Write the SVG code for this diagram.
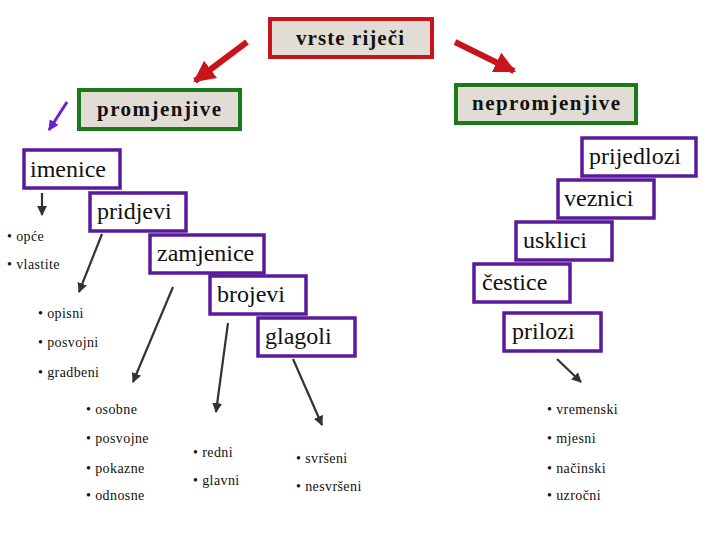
<svg xmlns="http://www.w3.org/2000/svg" width="720" height="540" viewBox="0 0 720 540">
<style>
text{font-family:'Liberation Serif','Times New Roman','DejaVu Serif',serif;fill:#111}
.hb{font-size:21px;font-weight:bold}
.bx{font-size:24px}
.li{font-size:14px;letter-spacing:0.4px}
.top{fill:#e2ddd4;stroke-width:4}
.pb{fill:#fff;stroke:#5a1a9c;stroke-width:3.5}
.dk{stroke:#333;stroke-width:2.2;fill:none;marker-end:url(#ad)}
.rd{stroke:#c8141a;stroke-width:6;fill:none;marker-end:url(#ar)}
</style>
<defs>
<marker id="ad" viewBox="0 0 10 10" refX="9" refY="5" markerWidth="4.5" markerHeight="4.5" orient="auto"><path d="M0,0 L10,5 L0,10 z" fill="#333"/></marker>
<marker id="ar" viewBox="0 0 10 10" refX="9" refY="5" markerWidth="3.6" markerHeight="3.6" orient="auto"><path d="M0,0 L10,5 L0,10 z" fill="#c8141a"/></marker>
<marker id="ap" viewBox="0 0 10 10" refX="9" refY="5" markerWidth="3.5" markerHeight="3.5" orient="auto"><path d="M0,0 L10,5 L0,10 z" fill="#6a1fd0"/></marker>
</defs>
<rect width="720" height="540" fill="#fff"/>
<g id="connectors">
<line class="rd" x1="247" y1="42" x2="195" y2="81"/>
<line class="rd" x1="455" y1="42" x2="514" y2="71"/>
<line x1="67" y1="102" x2="49" y2="130" stroke="#6a1fd0" stroke-width="3" marker-end="url(#ap)"/>
<line class="dk" x1="42" y1="193" x2="42" y2="215"/>
<line class="dk" x1="102" y1="234" x2="79" y2="292"/>
<line class="dk" x1="173" y1="287" x2="133" y2="382"/>
<line class="dk" x1="228" y1="323" x2="216" y2="412"/>
<line class="dk" x1="293" y1="359" x2="322" y2="425"/>
<line class="dk" x1="557" y1="359" x2="581" y2="382"/>
</g>
<g font-family="Liberation Serif, Times New Roman, serif">
<g id="vrste"><rect class="top" x="270" y="19" width="162" height="38" stroke="#c8141a"/><text class="hb" x="296" y="45" textLength="108" lengthAdjust="spacing">vrste riječi</text></g>
<g id="promjenjive"><rect class="top" x="79" y="90" width="161" height="39" stroke="#1a7a1a"/><text class="hb" x="97" y="116" textLength="124" lengthAdjust="spacing">promjenjive</text></g>
<g id="nepromjenjive"><rect class="top" x="456" y="85" width="180" height="38" stroke="#1a7a1a"/><text class="hb" x="472" y="110" textLength="148" lengthAdjust="spacing">nepromjenjive</text></g>
<g id="imenice"><rect class="pb" x="24" y="150" width="96" height="38"/><text class="bx" x="30" y="177">imenice</text></g>
<g id="pridjevi"><rect class="pb" x="90" y="193" width="96" height="38"/><text class="bx" x="97" y="219">pridjevi</text></g>
<g id="zamjenice"><rect class="pb" x="150" y="235" width="114" height="38"/><text class="bx" x="157" y="261">zamjenice</text></g>
<g id="brojevi"><rect class="pb" x="210" y="276" width="96" height="38"/><text class="bx" x="217" y="302">brojevi</text></g>
<g id="glagoli"><rect class="pb" x="258" y="318" width="97" height="38"/><text class="bx" x="265" y="344">glagoli</text></g>
<g id="prijedlozi"><rect class="pb" x="582" y="138" width="114" height="38"/><text class="bx" x="589" y="164">prijedlozi</text></g>
<g id="veznici"><rect class="pb" x="558" y="180" width="96" height="38"/><text class="bx" x="564" y="206">veznici</text></g>
<g id="usklici"><rect class="pb" x="516" y="222" width="96" height="38"/><text class="bx" x="523" y="248">usklici</text></g>
<g id="cestice"><rect class="pb" x="474" y="264" width="96" height="38"/><text class="bx" x="482" y="290">čestice</text></g>
<g id="prilozi"><rect class="pb" x="504" y="313" width="97" height="38"/><text class="bx" x="512" y="339">prilozi</text></g>
<g id="lists">
<text class="li" x="7" y="241">• opće</text>
<text class="li" x="7" y="269">• vlastite</text>
<text class="li" x="38" y="318">• opisni</text>
<text class="li" x="38" y="347">• posvojni</text>
<text class="li" x="38" y="377">• gradbeni</text>
<text class="li" x="86" y="414">• osobne</text>
<text class="li" x="86" y="443">• posvojne</text>
<text class="li" x="86" y="473">• pokazne</text>
<text class="li" x="86" y="500">• odnosne</text>
<text class="li" x="193" y="457">• redni</text>
<text class="li" x="193" y="485">• glavni</text>
<text class="li" x="296" y="463">• svršeni</text>
<text class="li" x="296" y="491">• nesvršeni</text>
<text class="li" x="547" y="414">• vremenski</text>
<text class="li" x="547" y="443">• mjesni</text>
<text class="li" x="547" y="473">• načinski</text>
<text class="li" x="547" y="500">• uzročni</text>
</g>
</g>
</svg>
